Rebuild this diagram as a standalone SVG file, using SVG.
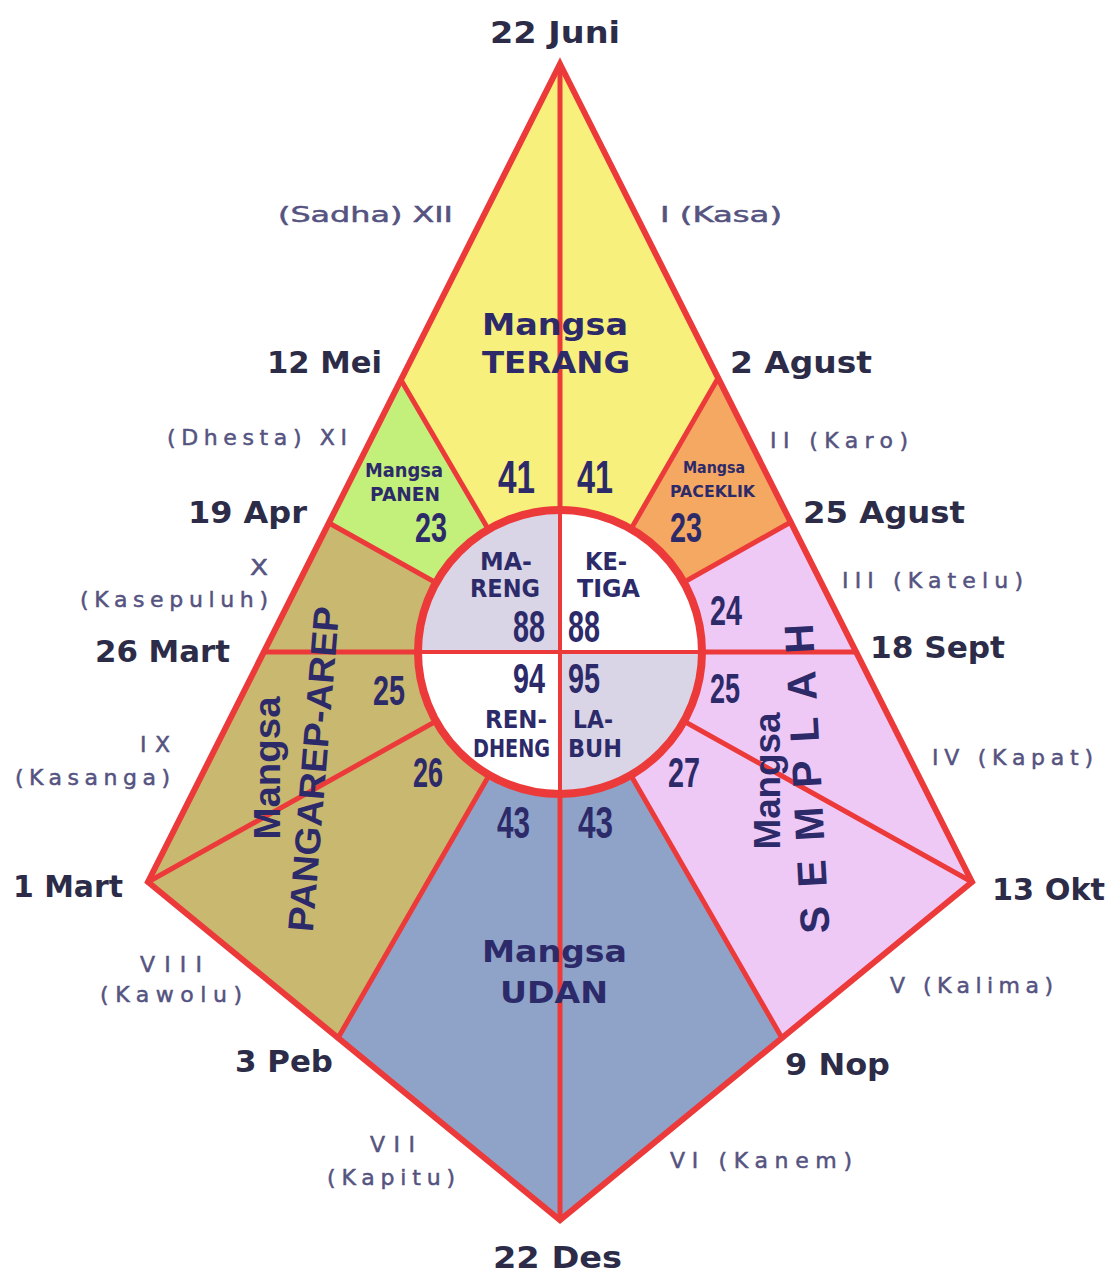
<svg xmlns="http://www.w3.org/2000/svg" width="1110" height="1274" viewBox="0 0 1110 1274">
<style>
.reg{stroke:none}
.ln{stroke:#ec3a3a;stroke-width:5;fill:none;stroke-linecap:round}
.outer{stroke:#ec3a3a;stroke-width:6;fill:none;stroke-linejoin:miter}
.date{font-family:"DejaVu Sans",sans-serif;font-weight:bold;font-size:30px;fill:#2c2c48}
.rom{font-family:"DejaVu Sans",sans-serif;font-size:22px;fill:#55537f;stroke:#55537f;stroke-width:0.5}
.lbl{font-family:"DejaVu Sans",sans-serif;font-weight:bold;fill:#2d2a6a}
.num{font-family:"Liberation Sans",sans-serif;font-weight:bold;fill:#2d2a6a}
.rot{font-family:"Liberation Sans",sans-serif;font-weight:bold;fill:#2d2a6a;text-anchor:middle}
</style>
<rect width="1110" height="1274" fill="#ffffff"/>
<g id="node-terang"><polygon class="reg" fill="#f8f07c" points="560,652 401,380 560,64 717,380"/></g>
<g id="node-panen"><polygon class="reg" fill="#c2f07b" points="560,652 329,523 401,380"/></g>
<g id="node-paceklik"><polygon class="reg" fill="#f5a862" points="560,652 717,380 791,522"/></g>
<g id="node-pangarep"><polygon class="reg" fill="#c9b86f" points="560,652 338,1038 148,882 329,523"/></g>
<g id="node-semplah"><polygon class="reg" fill="#efc9f6" points="560,652 791,522 972,882 782,1038"/></g>
<g id="node-udan"><polygon class="reg" fill="#8fa3c9" points="560,652 782,1038 560,1220 338,1038"/></g>
<g id="connectors">
<polygon class="outer" points="560,64 972,882 560,1220 148,882"/>
<line class="ln" x1="560" y1="64" x2="560" y2="1220"/>
<line class="ln" x1="264" y1="652" x2="856" y2="652"/>
<line class="ln" x1="401" y1="380" x2="560" y2="652"/>
<line class="ln" x1="717" y1="380" x2="560" y2="652"/>
<line class="ln" x1="329" y1="523" x2="560" y2="652"/>
<line class="ln" x1="791" y1="522" x2="560" y2="652"/>
<line class="ln" x1="148" y1="882" x2="560" y2="652"/>
<line class="ln" x1="972" y1="882" x2="560" y2="652"/>
<line class="ln" x1="338" y1="1038" x2="560" y2="652"/>
<line class="ln" x1="782" y1="1038" x2="560" y2="652"/>
</g>
<g id="node-center">
<path d="M560,652 H418 A142,142 0 0 1 560,510 Z" fill="#d9d5e6"/>
<path d="M560,652 V510 A142,142 0 0 1 702,652 Z" fill="#ffffff"/>
<path d="M560,652 H702 A142,142 0 0 1 560,794 Z" fill="#d9d5e6"/>
<path d="M560,652 V794 A142,142 0 0 1 418,652 Z" fill="#ffffff"/>
<line x1="418" y1="652" x2="702" y2="652" stroke="#ec3a3a" stroke-width="4"/>
<line x1="560" y1="510" x2="560" y2="794" stroke="#ec3a3a" stroke-width="4"/>
<circle cx="560" cy="652" r="142" fill="none" stroke="#ec3a3a" stroke-width="8"/>
<text class="lbl" font-size="25" x="480" y="570" textLength="52" lengthAdjust="spacingAndGlyphs">MA-</text>
<text class="lbl" font-size="25" x="470" y="597" textLength="70" lengthAdjust="spacingAndGlyphs">RENG</text>
<text class="lbl" font-size="25" x="585" y="570" textLength="42" lengthAdjust="spacingAndGlyphs">KE-</text>
<text class="lbl" font-size="25" x="577" y="597" textLength="63" lengthAdjust="spacingAndGlyphs">TIGA</text>
<text class="lbl" font-size="25" x="485" y="728" textLength="62" lengthAdjust="spacingAndGlyphs">REN-</text>
<text class="lbl" font-size="25" x="473" y="757" textLength="77" lengthAdjust="spacingAndGlyphs">DHENG</text>
<text class="lbl" font-size="25" x="573" y="728" textLength="40" lengthAdjust="spacingAndGlyphs">LA-</text>
<text class="lbl" font-size="25" x="568" y="757" textLength="54" lengthAdjust="spacingAndGlyphs">BUH</text>
<text class="num" font-size="44" x="513" y="642" textLength="32" lengthAdjust="spacingAndGlyphs">88</text>
<text class="num" font-size="44" x="568" y="642" textLength="32" lengthAdjust="spacingAndGlyphs">88</text>
<text class="num" font-size="43" x="513" y="693" textLength="32" lengthAdjust="spacingAndGlyphs">94</text>
<text class="num" font-size="43" x="568" y="693" textLength="32" lengthAdjust="spacingAndGlyphs">95</text>
</g>
<g id="label-terang">
<text class="lbl" font-size="31" x="482" y="335" textLength="146" lengthAdjust="spacingAndGlyphs">Mangsa</text>
<text class="lbl" font-size="31" x="482" y="373" textLength="148" lengthAdjust="spacingAndGlyphs">TERANG</text>
<text class="num" font-size="46" x="498" y="493" textLength="37" lengthAdjust="spacingAndGlyphs">41</text>
<text class="num" font-size="46" x="577" y="493" textLength="36" lengthAdjust="spacingAndGlyphs">41</text>
</g>
<g id="label-panen">
<text class="lbl" font-size="19" x="365" y="477" textLength="78" lengthAdjust="spacingAndGlyphs">Mangsa</text>
<text class="lbl" font-size="19" x="370" y="501" textLength="70" lengthAdjust="spacingAndGlyphs">PANEN</text>
<text class="num" font-size="42" x="415" y="542" textLength="32" lengthAdjust="spacingAndGlyphs">23</text>
</g>
<g id="label-paceklik">
<text class="lbl" font-size="16" x="683" y="473" textLength="62" lengthAdjust="spacingAndGlyphs">Mangsa</text>
<text class="lbl" font-size="16" x="670" y="497" textLength="85" lengthAdjust="spacingAndGlyphs">PACEKLIK</text>
<text class="num" font-size="42" x="670" y="542" textLength="32" lengthAdjust="spacingAndGlyphs">23</text>
</g>
<g id="label-pangarep">
<text class="rot" font-size="36" transform="translate(280,768) rotate(-90)" textLength="143" lengthAdjust="spacingAndGlyphs">Mangsa</text>
<text class="rot" font-size="36" transform="translate(326,770) rotate(-85.3)" textLength="326" lengthAdjust="spacingAndGlyphs">PANGAREP-AREP</text>
<text class="num" font-size="42" x="373" y="705" textLength="32" lengthAdjust="spacingAndGlyphs">25</text>
<text class="num" font-size="42" x="413" y="787" textLength="30" lengthAdjust="spacingAndGlyphs">26</text>
</g>
<g id="label-semplah">
<text class="rot" font-size="36" transform="translate(780,781) rotate(-90)" textLength="137" lengthAdjust="spacingAndGlyphs">Mangsa</text>
<text class="rot" font-size="41" transform="translate(821,778) rotate(-93.1)" textLength="310" lengthAdjust="spacing">S E M P L A H</text>
<text class="num" font-size="42" x="710" y="625" textLength="32" lengthAdjust="spacingAndGlyphs">24</text>
<text class="num" font-size="42" x="710" y="703" textLength="30" lengthAdjust="spacingAndGlyphs">25</text>
<text class="num" font-size="42" x="668" y="787" textLength="32" lengthAdjust="spacingAndGlyphs">27</text>
</g>
<g id="label-udan">
<text class="num" font-size="44" x="497" y="838" textLength="33" lengthAdjust="spacingAndGlyphs">43</text>
<text class="num" font-size="44" x="578" y="838" textLength="35" lengthAdjust="spacingAndGlyphs">43</text>
<text class="lbl" font-size="31" x="482" y="962" textLength="145" lengthAdjust="spacingAndGlyphs">Mangsa</text>
<text class="lbl" font-size="31" x="500" y="1003" textLength="108" lengthAdjust="spacingAndGlyphs">UDAN</text>
</g>
<g id="dates">
<text class="date" font-size="34" x="490" y="43" textLength="130" lengthAdjust="spacingAndGlyphs">22 Juni</text>
<text class="date" x="267" y="373" textLength="115" lengthAdjust="spacingAndGlyphs">12 Mei</text>
<text class="date" x="188" y="523" textLength="119" lengthAdjust="spacingAndGlyphs">19 Apr</text>
<text class="date" x="95" y="662" textLength="135" lengthAdjust="spacingAndGlyphs">26 Mart</text>
<text class="date" x="13" y="897" textLength="110" lengthAdjust="spacingAndGlyphs">1 Mart</text>
<text class="date" x="235" y="1072" textLength="98" lengthAdjust="spacingAndGlyphs">3 Peb</text>
<text class="date" x="730" y="373" textLength="142" lengthAdjust="spacingAndGlyphs">2 Agust</text>
<text class="date" x="803" y="523" textLength="162" lengthAdjust="spacingAndGlyphs">25 Agust</text>
<text class="date" x="870" y="658" textLength="135" lengthAdjust="spacingAndGlyphs">18 Sept</text>
<text class="date" x="992" y="900" textLength="113" lengthAdjust="spacingAndGlyphs">13 Okt</text>
<text class="date" x="785" y="1075" textLength="105" lengthAdjust="spacingAndGlyphs">9 Nop</text>
<text class="date" font-size="34" x="493" y="1268" textLength="129" lengthAdjust="spacingAndGlyphs">22 Des</text>
</g>
<g id="months">
<text class="rom" x="278" y="222" textLength="175" lengthAdjust="spacingAndGlyphs">(Sadha) XII</text>
<text class="rom" x="660" y="222" textLength="122" lengthAdjust="spacingAndGlyphs">I (Kasa)</text>
<text class="rom" x="167" y="445" textLength="180" lengthAdjust="spacing">(Dhesta) XI</text>
<text class="rom" x="770" y="448" textLength="138" lengthAdjust="spacing">II (Karo)</text>
<text class="rom" x="250" y="575" textLength="18" lengthAdjust="spacingAndGlyphs">X</text>
<text class="rom" x="80" y="607" textLength="188" lengthAdjust="spacing">(Kasepuluh)</text>
<text class="rom" x="842" y="588" textLength="181" lengthAdjust="spacing">III (Katelu)</text>
<text class="rom" x="140" y="752" textLength="30" lengthAdjust="spacing">IX</text>
<text class="rom" x="15" y="785" textLength="155" lengthAdjust="spacing">(Kasanga)</text>
<text class="rom" x="932" y="765" textLength="161" lengthAdjust="spacing">IV (Kapat)</text>
<text class="rom" x="140" y="972" textLength="62" lengthAdjust="spacing">VIII</text>
<text class="rom" x="100" y="1002" textLength="142" lengthAdjust="spacing">(Kawolu)</text>
<text class="rom" x="890" y="993" textLength="163" lengthAdjust="spacing">V (Kalima)</text>
<text class="rom" x="370" y="1152" textLength="45" lengthAdjust="spacing">VII</text>
<text class="rom" x="327" y="1185" textLength="128" lengthAdjust="spacing">(Kapitu)</text>
<text class="rom" x="670" y="1168" textLength="182" lengthAdjust="spacing">VI (Kanem)</text>
</g>
</svg>
